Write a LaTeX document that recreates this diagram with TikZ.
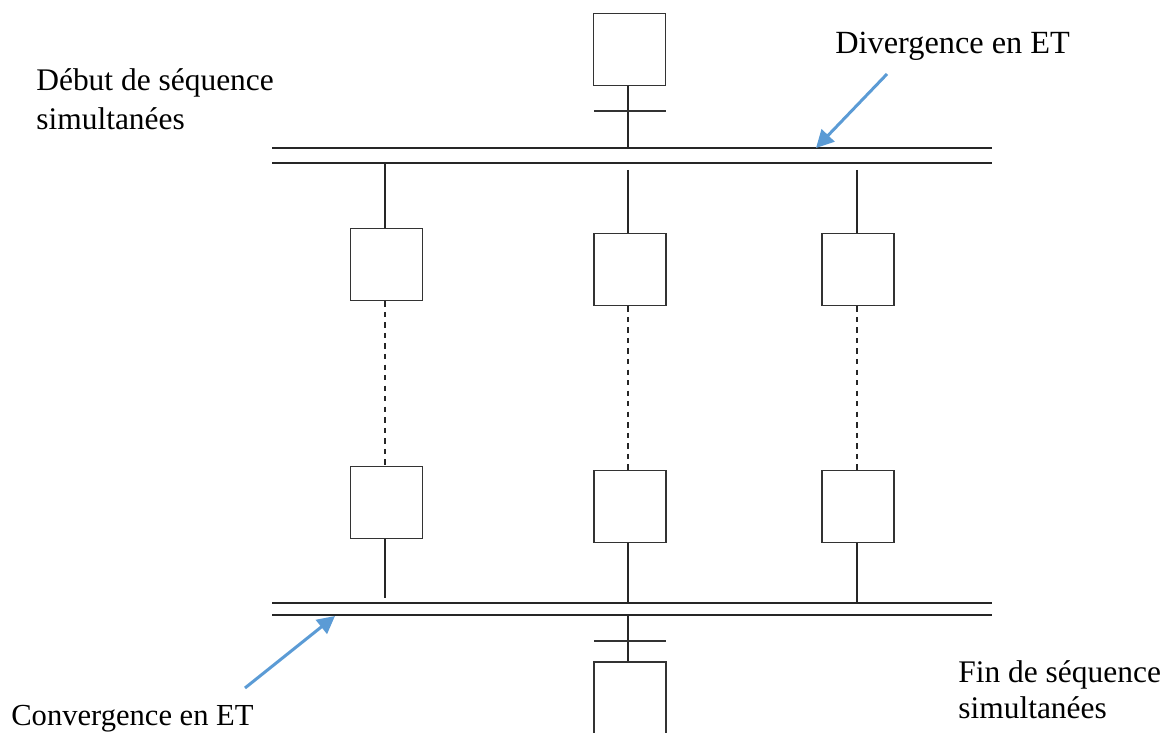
\documentclass[tikz,border=0pt]{standalone}
\usepackage{fontspec}
\setmainfont{Liberation Serif}
\usetikzlibrary{arrows.meta}
\definecolor{pointer}{RGB}{91,155,213}
\begin{document}
\begin{tikzpicture}[x=0.02cm,y=-0.02cm,
  wire/.style={line width=0.9pt,black!85},
  dotwire/.style={line width=1.1pt,black!85,dash pattern=on 3pt off 3pt},
  stepbox/.style={draw=black!80,line width=0.9pt,minimum width=1.44cm,minimum height=1.44cm,inner sep=0pt},
  trans/.style={line width=0.9pt,black!80},
  pointerarrow/.style={draw=pointer,line width=1.7pt,-{Triangle[length=10pt,width=10pt]}},
  label/.style={font=\fontsize{17.9pt}{21.5pt}\selectfont,inner sep=0pt,anchor=base west}]
\useasboundingbox (0,0) rectangle (1170,733);
\clip (0,0) rectangle (1170,733);

% upstream step and its transition
\node[stepbox] (top) at (629.5,49.5) {};
\coordinate (topbar) at (628,148);
\draw[wire] (top.south -| topbar) -- (topbar);
\coordinate (ttl) at (594,111); \coordinate (ttr) at (666,111);
\draw[trans] (ttl) -- (ttr);

% divergence double bar
\coordinate (d1a) at (272,148); \coordinate (d1b) at (992,148);
\coordinate (d2a) at (272,163); \coordinate (d2b) at (992,163);
\draw[wire] (d1a) -- (d1b);
\draw[wire] (d2a) -- (d2b);

% three parallel sequences
\node[stepbox] (a1) at (386.5,264.5) {};
\node[stepbox] (b1) at (630,269.5) {};
\node[stepbox] (c1) at (858,269.5) {};
\node[stepbox] (a2) at (386.5,502.5) {};
\node[stepbox] (b2) at (630,506.5) {};
\node[stepbox] (c2) at (858,506.5) {};

\coordinate (ua) at (385,163); \coordinate (ub) at (628,170); \coordinate (uc) at (857,170);
\draw[wire] (ua) -- (ua |- a1.north);
\draw[wire] (ub) -- (ub |- b1.north);
\draw[wire] (uc) -- (uc |- c1.north);

\draw[dotwire] (a1.south -| ua) -- (a2.north -| ua);
\draw[dotwire] (b1.south -| ub) -- (b2.north -| ub);
\draw[dotwire] (c1.south -| uc) -- (c2.north -| uc);

\coordinate (la) at (385,598); \coordinate (lb) at (628,603); \coordinate (lc) at (857,603);
\draw[wire] (a2.south -| la) -- (la);
\draw[wire] (b2.south -| lb) -- (lb);
\draw[wire] (c2.south -| lc) -- (lc);

% convergence double bar
\coordinate (e1a) at (272,603); \coordinate (e1b) at (992,603);
\coordinate (e2a) at (272,615); \coordinate (e2b) at (992,615);
\draw[wire] (e1a) -- (e1b);
\draw[wire] (e2a) -- (e2b);

% downstream transition and step
\node[stepbox,minimum height=2.4cm,anchor=north] (bot) at (630,661) {};
\coordinate (botbar) at (628,615);
\draw[wire] (botbar) -- (botbar |- bot.north);
\coordinate (btl) at (594,641); \coordinate (btr) at (666,641);
\draw[trans] (btl) -- (btr);

% labels
\node[label,font=\fontsize{18.4pt}{21.5pt}\selectfont] (div) at (835,54) {Divergence en ET};
\node[label] (deb1) at (36,91) {Début de séquence};
\node[label] (deb2) at (36,130) {simultanées};
\node[label] (fin1) at (958,682) {Fin de séquence};
\node[label] (fin2) at (958,718) {simultanées};
\node[label,font=\fontsize{17.4pt}{21.5pt}\selectfont] (conv) at (11,725) {Convergence en ET};

% pointers
\coordinate (divtail) at (887,74); \coordinate (divtip) at (816,148);
\draw[pointerarrow] (divtail) -- (divtip);
\coordinate (convtail) at (245,688); \coordinate (convtip) at (335,616);
\draw[pointerarrow] (convtail) -- (convtip);
\end{tikzpicture}
\end{document}
